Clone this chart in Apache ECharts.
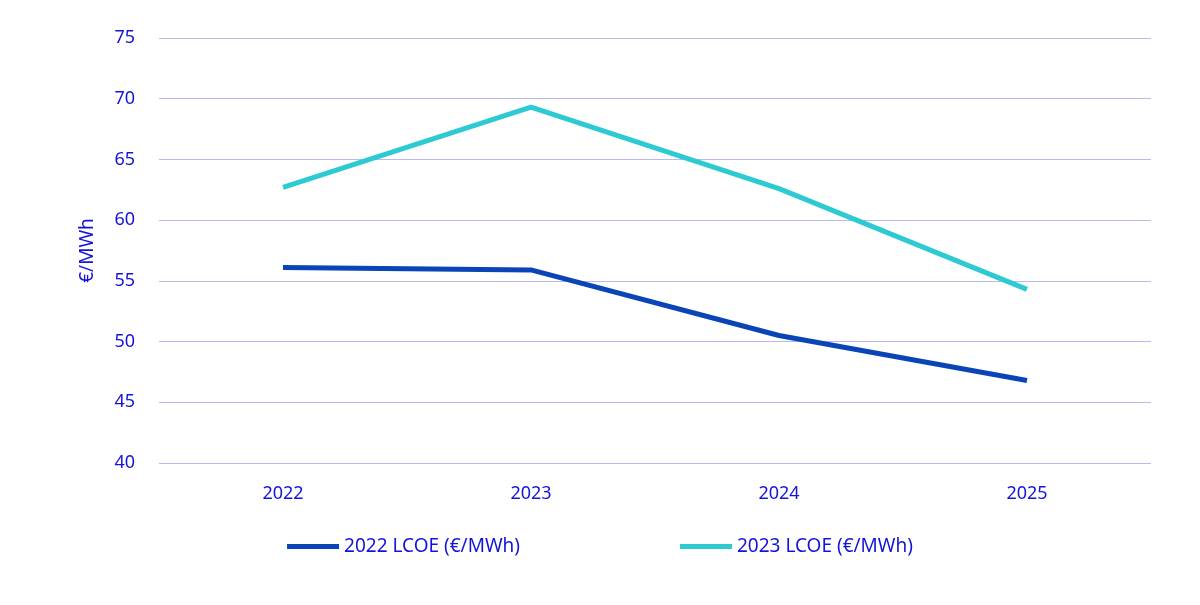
<!DOCTYPE html>
<html><head><meta charset="utf-8">
<script src="https://cdn.jsdelivr.net/npm/echarts@6/dist/echarts.min.js"></script>
<style>html,body{margin:0;padding:0;background:#fff}#c{width:1200px;height:605px}</style>
</head><body><div id="c"></div>
<script>
const categories = ['2022','2023','2024','2025'];
const lcoe2022 = [56.1, 55.9, 50.5, 46.8];
const lcoe2023 = [62.7, 69.3, 62.6, 54.3];
const yTicks = [40,45,50,55,60,65,70,75];
const txt = '#1414d9';
const chart = echarts.init(document.getElementById('c'));
chart.setOption({
  textStyle:{fontFamily:'Noto Sans'},
  grid:{left:159,right:49,top:38,bottom:142},
  legend:{bottom:44,left:'center',itemGap:160,itemWidth:52,itemHeight:5,icon:'rect',
    textStyle:{color:txt,fontSize:19,fontFamily:'Noto Sans'},
    data:['2022 LCOE (€/MWh)','2023 LCOE (€/MWh)']},
  xAxis:{type:'category',data:categories,boundaryGap:true,
    axisLine:{show:false},axisTick:{show:false},
    axisLabel:{color:txt,fontSize:18,margin:22}},
  yAxis:{type:'value',min:40,max:75,interval:5,name:'€/MWh',nameLocation:'middle',nameGap:62,
    nameTextStyle:{color:txt,fontSize:19},
    axisLabel:{color:txt,fontSize:18,margin:24},
    splitLine:{lineStyle:{color:'#b8b8f2',width:1}}},
  series:[
    {name:'2022 LCOE (€/MWh)',type:'line',data:lcoe2022,symbol:'none',color:'#0a45b8',lineStyle:{width:5}},
    {name:'2023 LCOE (€/MWh)',type:'line',data:lcoe2023,symbol:'none',color:'#2ecad3',lineStyle:{width:5}}
  ]
});
</script></body></html>
